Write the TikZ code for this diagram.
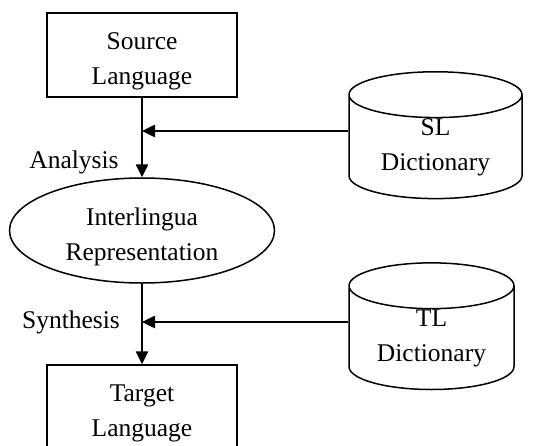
\documentclass[tikz,border=0pt]{standalone}
\usepackage{fontspec}
\setmainfont{Liberation Serif}
\usetikzlibrary{shapes.geometric,arrows.meta}

\begin{document}
\begin{tikzpicture}[x=1pt,y=-1pt,
	every node/.style={font=\fontsize{25.5}{35}\selectfont, align=center},
	inlabel/.style={label={[yshift=-6.5pt, align=center]center:#1}},
	langbox/.style={draw, line width=1.5pt, minimum width=190pt, minimum height=84pt, inner sep=0pt},
	dict/.style={draw, line width=1.5pt, cylinder, shape border rotate=90, aspect=0.42, inner sep=0pt},
	flow/.style={line width=2.5pt, -{Triangle[length=13pt,width=12pt]}}]
	\useasboundingbox (0,0) rectangle (536,445);

	\node (src) at (142,55) [langbox, inlabel={Source\\Language}] {};
	\node (inter) at (142,230.5) [ellipse, draw, line width=1.5pt, minimum width=265pt, minimum height=105pt, inner sep=0pt, inlabel={Interlingua\\Representation}] {};
	\node (tgt) at (142,407) [langbox, inlabel={Target\\Language}] {};

	\node (sl) at (435.5,147) [dict, minimum width=173pt, minimum height=126pt] {SL\\Dictionary};
	\node (tl) at (431.5,338) [dict, minimum width=165pt, minimum height=120pt] {TL\\Dictionary};

	\draw [flow] (src) -- (inter);
	\draw [flow] (inter) -- (tgt);
	\coordinate (slin) at ([yshift=16pt]sl.west);
	\coordinate (tlin) at ([yshift=16pt]tl.west);
	\draw [flow] (slin) -- (slin -| src.south);
	\draw [flow] (tlin) -- (tlin -| tgt.north);

	\node at (74,162) {Analysis};
	\node at (71,322) {Synthesis};
\end{tikzpicture}
\end{document}
